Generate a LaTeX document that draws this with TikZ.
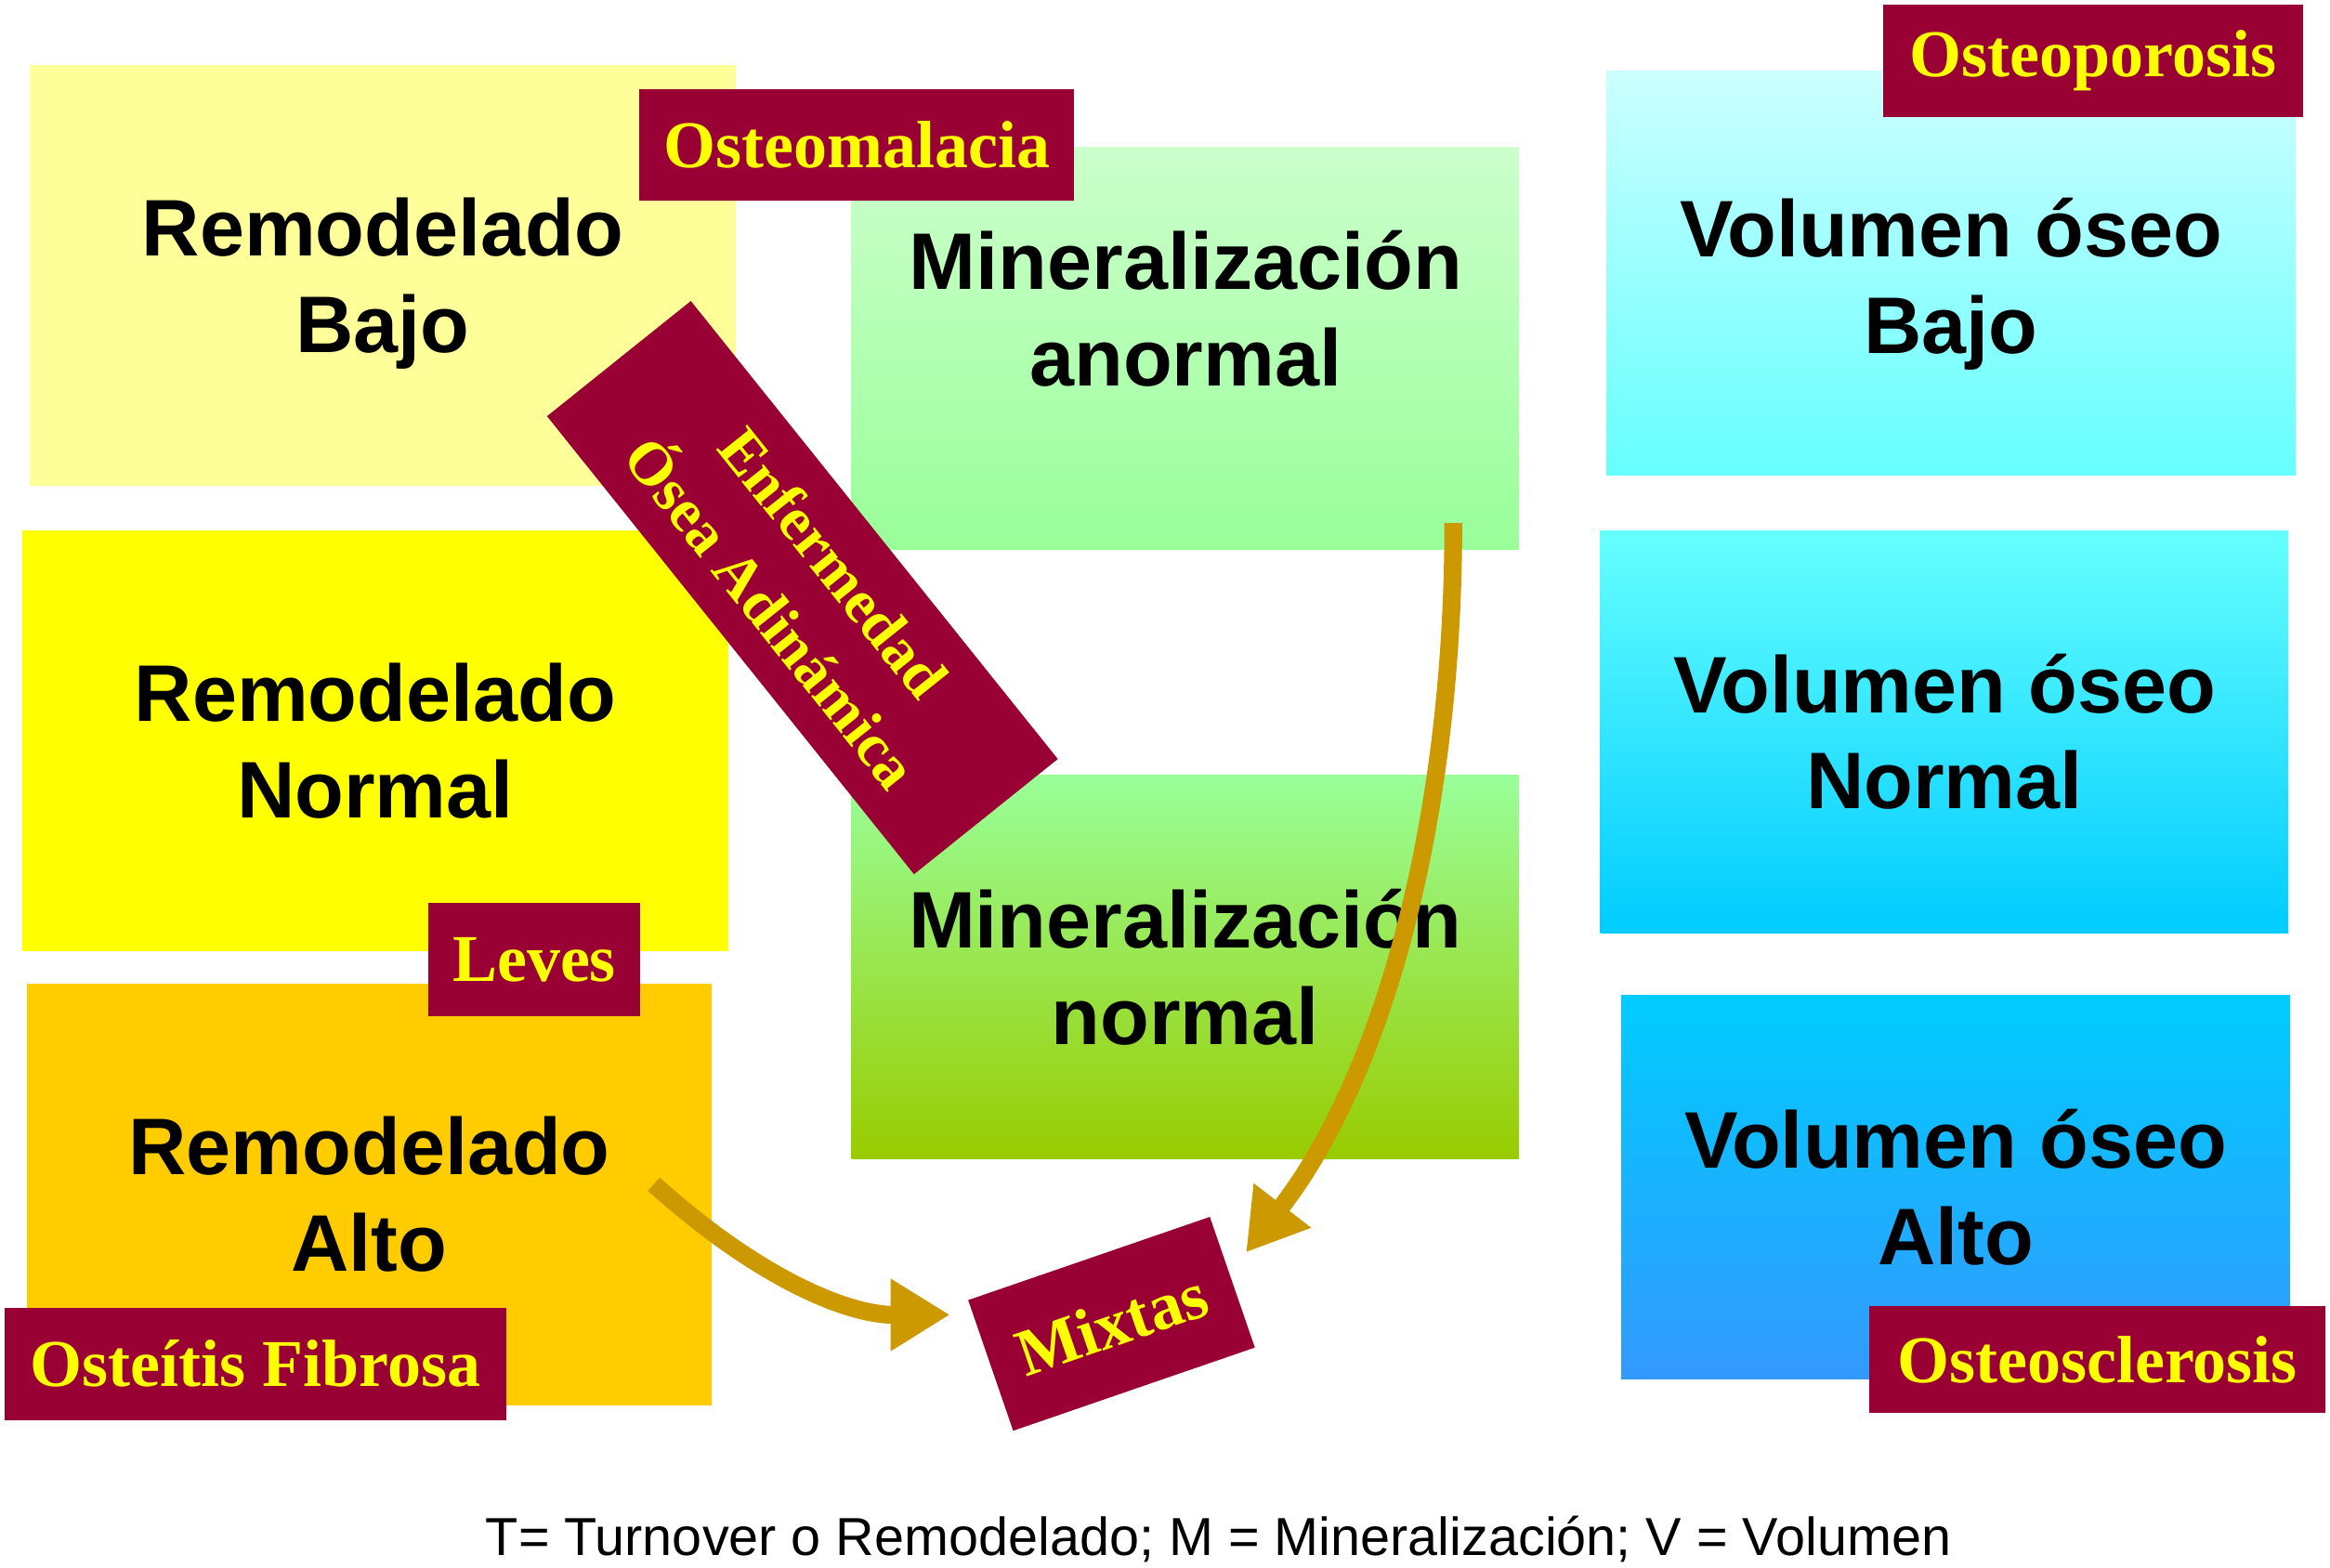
\documentclass[tikz,border=0pt]{standalone}
\usepackage{fontspec}
\setmainfont{Liberation Serif}
\setsansfont{Liberation Sans}
\usetikzlibrary{arrows.meta}

\definecolor{tagred}{HTML}{990033}
\definecolor{tagyellow}{HTML}{FFFF00}
\definecolor{gold}{HTML}{CC9900}
\definecolor{remlow}{HTML}{FFFF99}
\definecolor{remnorm}{HTML}{FFFF00}
\definecolor{remhigh}{HTML}{FFCC00}
\definecolor{minlight}{HTML}{CCFFCC}
\definecolor{mingreen}{HTML}{99FF99}
\definecolor{minolive}{HTML}{99CC00}
\definecolor{vollight}{HTML}{CCFFFF}
\definecolor{volcyan}{HTML}{66FFFF}
\definecolor{volsky}{HTML}{00CCFF}
\definecolor{volblue}{HTML}{3399FF}

\begin{document}
\begin{tikzpicture}[x=1pt,y=1pt,
box/.style 2 args={minimum width=#1pt,minimum height=#2pt,inner sep=0pt,align=center,
  font=\sffamily\bfseries\fontsize{54}{65}\selectfont},
tag/.style 2 args={fill=tagred,text=tagyellow,minimum width=#1pt,minimum height=#2pt,inner sep=0pt,
  align=center,font=\rmfamily\bfseries\fontsize{45}{50}\selectfont},
arr/.style={draw=gold,line width=12pt,-{Triangle[length=40pt,width=46pt,fill=gold]}}]
\useasboundingbox (0,0) rectangle (1568,1055);
% remodelado
\node[box={475}{283},fill=remlow] (remB) at (257.5,869.5) {};
\node[box={0}{0}] (remBtxt) at (257.5,864) {Remodelado\\Bajo};
\node[box={475}{283},fill=remnorm] (remN) at (252.5,556.5) {Remodelado\\Normal};
\node[box={461}{284},fill=remhigh] (remA) at (248.5,251) {Remodelado\\Alto};
% mineralizacion
\node[box={449}{271},top color=minlight,bottom color=mingreen] (minA) at (797.5,820.5) {};
\node[box={0}{0}] (minAtxt) at (798,847) {Mineralización\\anormal};
\node[box={449}{258},top color=mingreen,bottom color=minolive] (minN) at (797.5,404) {Mineralización\\normal};
% volumen
\node[box={464}{272},top color=vollight,bottom color=volcyan] (volB) at (1313,871) {};
\node[box={0}{0}] (volBtxt) at (1313,864) {Volumen óseo\\Bajo};
\node[box={463}{271},top color=volcyan,bottom color=volsky] (volN) at (1308.5,562.5) {Volumen óseo\\Normal};
\node[box={450}{258},top color=volsky,bottom color=volblue] (volA) at (1316,256) {Volumen óseo\\Alto};
% labels
\node[tag={293}{75}] (osteomal) at (576.5,957.5) {Osteomalacia};
\node[tag={283}{76}] (osteopor) at (1408.5,1014) {Osteoporosis};
\node[tag={307}{72}] (osteoscl) at (1411.5,140) {Osteosclerosis};
\node[tag={143}{76}] (leves) at (359.5,409) {Leves};
\node[tag={338}{76}] (fibrosa) at (172,137) {Osteítis Fibrosa};
\node[tag={395}{124},rotate=-51.3,font=\rmfamily\bfseries\fontsize{41}{54}\selectfont] (adin) at (540,659.5) {Enfermedad\\Ósea Adinámica};
\node[tag={172}{93},rotate=19,font=\rmfamily\bfseries\fontsize{45}{50}\selectfont] (mixtas) at (748,164) {Mixtas};
% arrows
\coordinate (fromA) at (440,258);
\coordinate (fromM) at (978,703);
\draw[arr] (fromA) .. controls (510,195) and (570,170) .. ([xshift=-12pt,yshift=-10pt]mixtas.north west);
\draw[arr] (fromM) .. controls (978,500) and (930,330) .. ([xshift=9pt,yshift=20pt]mixtas.east);
\node[font=\sffamily\fontsize{36}{40}\selectfont] (legend) at (820,19) {T= Turnover o Remodelado; M = Mineralización; V = Volumen};
\end{tikzpicture}
\end{document}
